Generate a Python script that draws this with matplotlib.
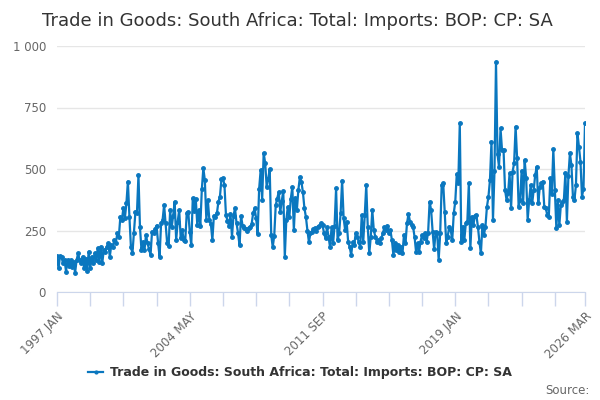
import matplotlib
matplotlib.use('Agg')
import matplotlib.pyplot as plt
from matplotlib.ticker import FuncFormatter
import pandas as pd

title = 'Trade in Goods: South Africa: Total: Imports: BOP: CP: SA'
start_month = '1997-01'
end_month = '2026-03'

# monthly values, one row per year
imports = [
    146, 96, 146, 141, 117, 130, 83, 130, 106, 130, 103, 123,
    78, 130, 157, 130, 117, 144, 96, 136, 87, 164, 96, 144,
    117, 157, 130, 178, 123, 184, 117, 170, 164, 184, 198, 144,
    191, 184, 211, 200, 238, 225, 306, 293, 340, 300, 360, 449,
    306, 184, 157, 240, 327, 322, 476, 263, 170, 204, 171, 232,
    198, 175, 150, 245, 241, 255, 270, 200, 144, 279, 293, 354,
    279, 200, 187, 333, 263, 310, 367, 211, 286, 333, 218, 252,
    211, 208, 320, 326, 245, 191, 381, 330, 377, 272, 333, 268,
    417, 503, 455, 293, 374, 293, 276, 211, 310, 303, 320, 367,
    387, 458, 463, 435, 313, 290, 270, 318, 225, 310, 340, 280,
    240, 190, 309, 270, 260, 255, 250, 260, 265, 275, 320, 340,
    300, 235, 420, 496, 374, 565, 524, 427, 460, 500, 232, 183,
    228, 354, 380, 407, 325, 370, 411, 142, 293, 346, 305, 380,
    427, 252, 382, 333, 415, 468, 447, 407, 341, 305, 250, 203,
    240, 244, 255, 260, 250, 265, 270, 279, 272, 240, 218, 263,
    225, 182, 263, 198, 270, 421, 211, 238, 320, 453, 300, 252,
    286, 204, 184, 150, 204, 191, 238, 225, 204, 182, 312, 204,
    312, 435, 263, 157, 225, 333, 252, 225, 204, 211, 198, 218,
    238, 263, 252, 270, 238, 252, 211, 150, 198, 171, 191, 164,
    184, 157, 232, 198, 279, 317, 286, 272, 266, 225, 164, 198,
    164, 205, 232, 218, 238, 205, 241, 367, 333, 245, 173, 245,
    241, 130, 238, 435, 442, 327, 198, 225, 266, 252, 211, 320,
    367, 480, 442, 686, 205, 266, 211, 279, 286, 442, 177, 306,
    272, 309, 313, 266, 205, 157, 272, 232, 266, 347, 387, 455,
    611, 293, 490, 936, 560, 509, 665, 577, 577, 415, 374, 401,
    482, 340, 489, 523, 672, 543, 347, 374, 493, 361, 537, 462,
    293, 374, 435, 361, 415, 476, 509, 361, 425, 442, 449, 347,
    340, 313, 306, 462, 400, 580, 415, 259, 374, 272, 354, 365,
    374, 485, 286, 472, 564, 516, 388, 374, 435, 645, 590, 530,
    388, 420, 686,
]

months = pd.period_range(start_month, end_month, freq='M')
labels = [f"{p.year} {p.strftime('%b').upper()}" for p in months]
x = list(range(len(months)))

line_color = '#0a77bf'
axis_color = '#ccd6eb'
text_color = '#666666'

fig = plt.figure(figsize=(6, 4), dpi=100)
ax = fig.add_axes([0.095, 0.27, 0.88, 0.615])

ax.plot(x, imports, color=line_color, lw=1.6, marker='o', ms=2.5,
        label=title)

ax.set_xlim(0, len(x) - 1)
ax.set_ylim(0, 1000)
ax.set_yticks([0, 250, 500, 750, 1000])
ax.yaxis.set_major_formatter(FuncFormatter(lambda v, p: f'{int(v):,}'.replace(',', ' ')))
ax.grid(axis='y', color='#e6e6e6', lw=1)
ax.set_axisbelow(True)

tick_pos = list(range(0, len(x), 22)) + [len(x) - 1]
ax.set_xticks(tick_pos)
ax.set_xticklabels([labels[t] if t % 88 == 0 or t == len(x) - 1 else '' for t in tick_pos],
                   rotation=45, ha='right', rotation_mode='anchor')

for s in ['top', 'right', 'left']:
    ax.spines[s].set_visible(False)
ax.spines['bottom'].set_color(axis_color)
ax.tick_params(axis='x', colors=axis_color, length=10, width=1, labelcolor=text_color,
               labelsize=8.5, pad=3)
ax.tick_params(axis='y', length=0, labelcolor=text_color, labelsize=8.5, pad=8)

fig.text(0.495, 0.948, title, ha='center', va='center', fontsize=13, color='#333333')

fig.legend(loc='center', bbox_to_anchor=(0.5, 0.068), frameon=False,
           prop={'size': 9, 'weight': 'bold'}, labelcolor='#333333',
           handlelength=1.2, handletextpad=0.5, markerscale=0.8)

fig.text(0.982, 0.025, 'Source:', ha='right', va='center', fontsize=8.5, color=text_color)

fig.savefig('out.png', dpi=100)
